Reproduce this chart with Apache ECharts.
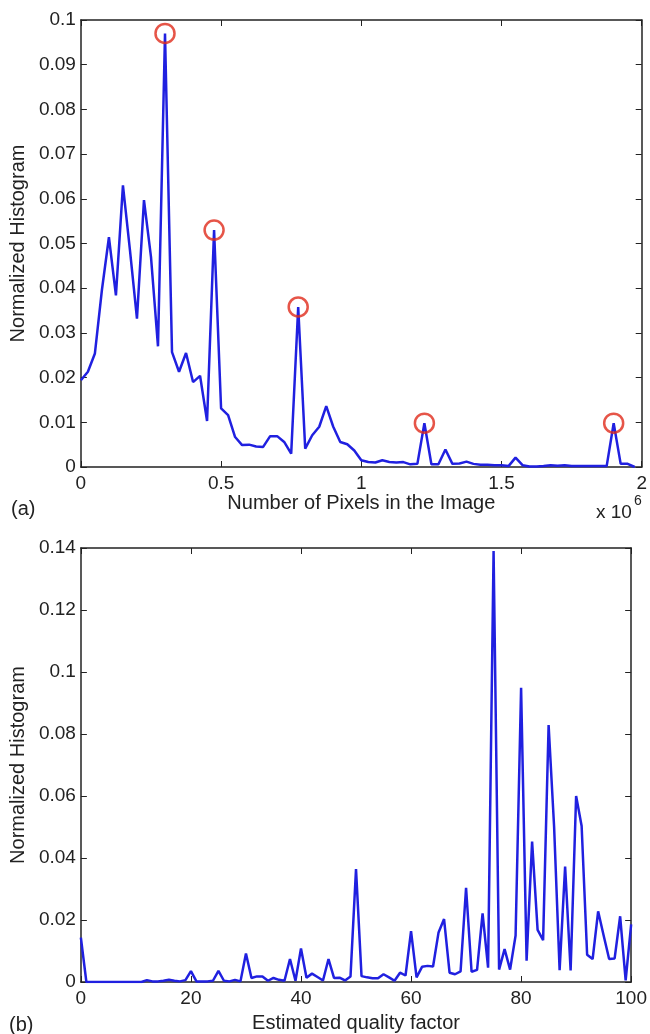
<!DOCTYPE html>
<html>
<head>
<meta charset="utf-8">
<script src="https://cdn.jsdelivr.net/npm/echarts@6/dist/echarts.min.js"></script>
<style>
  html, body { margin: 0; padding: 0; background: #fff; }
  #chart { width: 650px; height: 1034px; }
</style>
</head>
<body>
<div id="chart"></div>
<script>
// (a) histogram over number of pixels (x in units of 1e6)
const pixelsX = [
  0, 0.025, 0.05, 0.075, 0.1, 0.125, 0.15, 0.175, 0.2, 0.225,
  0.25, 0.275, 0.3, 0.325, 0.35, 0.375, 0.4, 0.425, 0.45, 0.475,
  0.5, 0.525, 0.55, 0.575, 0.6, 0.625, 0.65, 0.675, 0.7, 0.725,
  0.75, 0.775, 0.8, 0.825, 0.85, 0.875, 0.9, 0.925, 0.95, 0.975,
  1.0, 1.025, 1.05, 1.075, 1.1, 1.125, 1.15, 1.175, 1.2, 1.225,
  1.25, 1.275, 1.3, 1.325, 1.35, 1.375, 1.4, 1.425, 1.45, 1.475,
  1.5, 1.525, 1.55, 1.575, 1.6, 1.625, 1.65, 1.675, 1.7, 1.725,
  1.75, 1.775, 1.8, 1.825, 1.85, 1.875, 1.9, 1.925, 1.95, 1.975
]
const pixelsHist = [
  0.0194, 0.0213, 0.0254, 0.0396, 0.0514, 0.0384, 0.063, 0.0485, 0.0332, 0.0597,
  0.047, 0.027, 0.097, 0.0257, 0.0213, 0.0255, 0.019, 0.0204, 0.0103, 0.053,
  0.0131, 0.0116, 0.0067, 0.0049, 0.005, 0.0046, 0.0045, 0.0069, 0.0069, 0.0056,
  0.003, 0.0358, 0.0041, 0.0071, 0.009, 0.0136, 0.009, 0.0056, 0.0051, 0.0037,
  0.0015, 0.0011, 0.001, 0.0015, 0.0011, 0.001, 0.0011, 0.0006, 0.0007, 0.0098,
  0.0006, 0.0006, 0.0039, 0.0007, 0.0008, 0.0012, 0.0007, 0.0005, 0.0005, 0.0004,
  0.0004, 0.0002, 0.0021, 0.0004, 0.0001, 0.0001, 0.0002, 0.0004, 0.0003, 0.0004,
  0.0002, 0.0002, 0.0002, 0.0002, 0.0002, 0.0002, 0.0098, 0.0007, 0.0007, 0.0
]
// circled peaks
const peakX = [0.3, 0.475, 0.775, 1.225, 1.9]
const peakY = [0.097, 0.053, 0.0358, 0.0098, 0.0098]

// (b) histogram over estimated quality factor
const qualityX = [
  0, 1, 2, 3, 4, 5, 6, 7, 8, 9, 10, 11, 12, 13, 14, 15, 16, 17, 18, 19,
  20, 21, 22, 23, 24, 25, 26, 27, 28, 29, 30, 31, 32, 33, 34, 35, 36, 37, 38, 39,
  40, 41, 42, 43, 44, 45, 46, 47, 48, 49, 50, 51, 52, 53, 54, 55, 56, 57, 58, 59,
  60, 61, 62, 63, 64, 65, 66, 67, 68, 69, 70, 71, 72, 73, 74, 75, 76, 77, 78, 79,
  80, 81, 82, 83, 84, 85, 86, 87, 88, 89, 90, 91, 92, 93, 94, 95, 96, 97, 98, 99, 100
]
const qualityHist = [
  0.0143, 0, 0, 0, 0, 0, 0, 0, 0, 0, 0, 0, 0.0006, 0.0002, 0.0002, 0.0004, 0.0007, 0.0004, 0.0002, 0.0006,
  0.0035, 0.0002, 0.0002, 0.0002, 0.0004, 0.0036, 0.0004, 0.0002, 0.0007, 0.0002,
  0.0092, 0.0013, 0.0018, 0.0018, 0.0004, 0.0013, 0.0007, 0.0004, 0.0074, 0.0004,
  0.0108, 0.0014, 0.0027, 0.0016, 0.0005, 0.0074, 0.0013, 0.0014, 0.0005, 0.0018,
  0.0364, 0.0019, 0.0015, 0.0012, 0.0012, 0.0025, 0.0015, 0.0004, 0.003, 0.0021,
  0.0164, 0.0015, 0.0049, 0.0052, 0.005, 0.016, 0.0203, 0.003, 0.0025, 0.0034,
  0.0304, 0.0033, 0.0039, 0.0221, 0.0046, 0.139, 0.004, 0.0106, 0.004, 0.015,
  0.0949, 0.0069, 0.0453, 0.0168, 0.0135, 0.0829, 0.05, 0.0038, 0.0372, 0.0037,
  0.06, 0.0503, 0.0088, 0.0074, 0.0228, 0.015, 0.0074, 0.0076, 0.0212, 0.0005, 0.0186
]

const FONT = 'Liberation Sans'
const INK = '#222'
const BLUE = '#2020e0'

function zip(xs, ys) {
  return xs.map((x, i) => [x, ys[i]])
}

// box axis helpers: labelled bottom/left axes, mirrored ticks on top/right
function xAx(grid, min, max, interval, pos, showLabel, name, nameGap) {
  return {
    type: 'value', gridIndex: grid, min: min, max: max, interval: interval, position: pos,
    name: name || '', nameLocation: 'middle', nameGap: nameGap || 0,
    nameTextStyle: { fontFamily: FONT, fontSize: 20, color: INK },
    axisLine: { show: true, onZero: false, lineStyle: { color: INK, width: 1.5 } },
    axisTick: { show: true, inside: true, length: 6, lineStyle: { color: INK } },
    axisLabel: { show: showLabel, margin: 7, fontFamily: FONT, fontSize: 19, color: INK },
    splitLine: { show: false }
  }
}
function yAx(grid, min, max, interval, pos, showLabel, name, nameGap) {
  return {
    type: 'value', gridIndex: grid, min: min, max: max, interval: interval, position: pos,
    name: name || '', nameLocation: 'middle', nameGap: nameGap || 0,
    nameTextStyle: { fontFamily: FONT, fontSize: 20, color: INK },
    axisLine: { show: true, onZero: false, lineStyle: { color: INK, width: 1.5 } },
    axisTick: { show: true, inside: true, length: 6, lineStyle: { color: INK } },
    axisLabel: { show: showLabel, margin: 5, fontFamily: FONT, fontSize: 19, color: INK },
    splitLine: { show: false }
  }
}

const my_echart = echarts.init(document.getElementById('chart'), null, { renderer: 'canvas' })

my_echart.setOption({
  animation: false,
  backgroundColor: '#fff',
  grid: [
    { left: 77, top: 20, width: 565, height: 447 },
    { left: 77, top: 548, width: 556, height: 440 }
  ],
  xAxis: [
    xAx(0, 0, 2, 0.5, 'bottom', true, 'Number of Pixels in the Image', 16),
    xAx(0, 0, 2, 0.5, 'top', false),
    xAx(1, 0, 100, 20, 'bottom', true, 'Estimated quality factor', 31),
    xAx(1, 0, 100, 20, 'top', false)
  ],
  yAxis: [
    yAx(0, 0, 0.1, 0.01, 'left', true, 'Normalized Histogram', 48),
    yAx(0, 0, 0.1, 0.01, 'right', false),
    yAx(1, 0, 0.14, 0.02, 'left', true, 'Normalized Histogram', 48),
    yAx(1, 0, 0.14, 0.02, 'right', false)
  ],
  series: [
    {
      type: 'line', xAxisIndex: 0, yAxisIndex: 0,
      data: zip(pixelsX, pixelsHist),
      showSymbol: false, symbol: 'none',
      lineStyle: { color: BLUE, width: 2.5 }
    },
    {
      type: 'scatter', xAxisIndex: 0, yAxisIndex: 0,
      data: zip(peakX, peakY),
      symbol: 'circle', symbolSize: 19, z: 5,
      itemStyle: { color: 'rgba(0,0,0,0)', borderColor: '#e02a1a', borderWidth: 2.5 }
    },
    {
      type: 'line', xAxisIndex: 2, yAxisIndex: 2,
      data: zip(qualityX, qualityHist),
      showSymbol: false, symbol: 'none',
      lineStyle: { color: BLUE, width: 2.5 }
    }
  ],
  graphic: [
    { type: 'text', left: 11, top: 499, style: { text: '(a)', fontFamily: FONT, fontSize: 20, fill: INK } },
    { type: 'text', left: 9, top: 1015, style: { text: '(b)', fontFamily: FONT, fontSize: 20, fill: INK } },
    { type: 'text', left: 596, top: 503, style: { text: 'x 10', fontFamily: FONT, fontSize: 19, fill: INK } },
    { type: 'text', left: 634, top: 494, style: { text: '6', fontFamily: FONT, fontSize: 14, fill: INK } }
  ]
});
</script>
</body>
</html>
